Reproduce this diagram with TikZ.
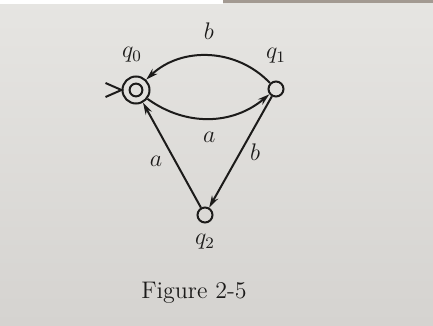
\documentclass[tikz,border=0pt]{standalone}
\usetikzlibrary{positioning,arrows.meta,calc}
\definecolor{ink}{HTML}{1C1B1A}
\definecolor{papertop}{HTML}{E6E5E2}
\definecolor{papermid}{HTML}{CBC9C5}
\definecolor{paperbot}{HTML}{D5D3D0}
\definecolor{edgestrip}{HTML}{A39A92}
\begin{document}
\begin{tikzpicture}[
  x=0.5pt, y=-0.5pt,
  every node/.style={font=\fontsize{12}{14}\selectfont, text=ink},
  state/.style ={draw=ink, circle, line width=1pt, inner sep=0pt, minimum size=7.5pt},
  accept/.style={state, minimum size=13.5pt,
                 path picture={\draw[ink, line width=1pt]
                   (path picture bounding box.center) circle (3.2pt);}},
  arr/.style   ={-{Stealth[length=6pt, width=3.5pt]}, draw=ink, line width=1pt}]

% page of the photo
\fill[top color=papertop, middle color=papermid, bottom color=paperbot]
  (0,0) rectangle (433,326);
\fill[white] (0,0) rectangle (223,4);
\fill[edgestrip] (223,0) rectangle (433,3);

\node[accept] (q0) at (136,90)  {};
\node[state]  (q1) at (276,89)  {};
\node[state]  (q2) at (205,215) {};

\node[above=3pt of q0, xshift=-2pt] (lq0) {$q_0$};
\node[above=5pt of q1]             (lq1) {$q_1$};
\node[below=2pt of q2]             (lq2) {$q_2$};

% start marker
\coordinate (st1) at ($(q0.west)+(-16,-7)$);
\coordinate (st2) at ($(q0.west)+(-16,7)$);
\draw[ink, line width=1pt] (st1) -- (q0.west) -- (st2);

\draw[arr] (q1) to[bend right=45] node[above=4pt] (lb1) {$b$} (q0);
\draw[arr] (q0) to[bend right=38] node[below=3pt] (la1) {$a$} (q1);
\draw[arr] (q1) -- node[right=1pt] (lb2) {$b$} (q2);
\draw[arr] (q2) -- node[left=1pt, yshift=-3pt]  (la2) {$a$} (q0);

\node (cap) at (194,293) {Figure 2-5};
\end{tikzpicture}
\end{document}
